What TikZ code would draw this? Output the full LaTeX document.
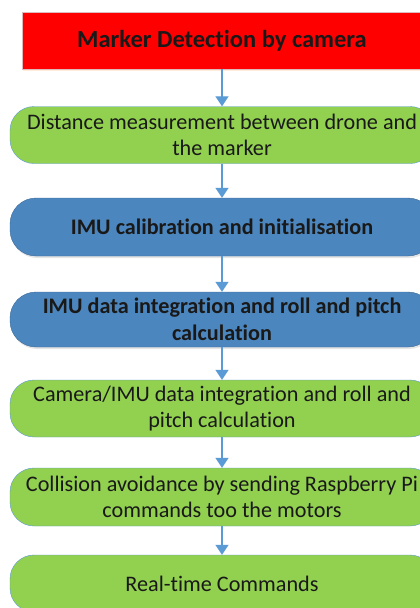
\documentclass[tikz,border=0pt]{standalone}
\usepackage{fontspec}
\setmainfont{Carlito}[RawFeature=-liga]
\usetikzlibrary{arrows.meta,shadows}

\definecolor{stepred}{HTML}{FF0000}
\definecolor{stepgreen}{HTML}{92D050}
\definecolor{stepblue}{HTML}{4C86BE}
\definecolor{edgeblue}{HTML}{5B9BD5}

\begin{document}
\begin{tikzpicture}[x=1pt,y=-1pt,
    every node/.style={font=\fontsize{22.2}{26.5}\selectfont,align=center,
      inner sep=0pt,text=black!90},
    redbox/.style={rectangle,draw=red!35!gray!40,fill=stepred,
      minimum width=400pt,minimum height=57pt,
      font=\fontsize{24.5}{29}\selectfont\bfseries,
      drop shadow={opacity=0.15,shadow xshift=1pt,shadow yshift=-2pt,fill=orange}},
    greenbox/.style={rectangle,rounded corners=24pt,draw=edgeblue,fill=stepgreen,
      minimum width=424pt,minimum height=57pt},
    bluebox/.style={rectangle,rounded corners=26pt,draw=stepblue!80!black,fill=stepblue,
      minimum width=424pt,minimum height=57pt,
      drop shadow={opacity=0.2,shadow xshift=1pt,shadow yshift=-2pt}},
    flow/.style={draw=edgeblue,line width=1.2pt,
      -{Triangle[width=13pt,length=10pt]}}]
      \def\cx{222}

      \clip (0,0) rectangle (420,608);
      \fill[white] (0,0) rectangle (420,608);

      \node (detect) at (\cx,40.5) [redbox]
            {Marker Detection by camera};

      \node (dist) at (\cx,135) [greenbox]
            {Distance measurement between drone and\\the marker};

      \node (calib) at (\cx,227) [bluebox,minimum height=58pt]
            {\bfseries IMU calibration and initialisation};

      \node (imu) at (\cx,319.5) [bluebox,minimum height=55pt]
            {\bfseries IMU data integration and roll and pitch\\\bfseries calculation};

      \node (fusion) at (\cx,408.5) [greenbox]
            {Camera/IMU data integration and roll and\\pitch calculation};

      \node (avoid) at (\cx,497) [greenbox,minimum height=58pt]
            {Collision avoidance by sending Raspberry Pi\\commands too the motors};

      \node (realtime) at (\cx,583.5) [greenbox]
            {Real-time Commands};

      \draw[flow] (detect) -- (dist);
      \draw[flow] (dist) -- (calib);
      \draw[flow] (calib) -- (imu);
      \draw[flow] (imu) -- (fusion);
      \draw[flow] (fusion) -- (avoid);
      \draw[flow] (avoid) -- (realtime);
    \end{tikzpicture}
\end{document}
